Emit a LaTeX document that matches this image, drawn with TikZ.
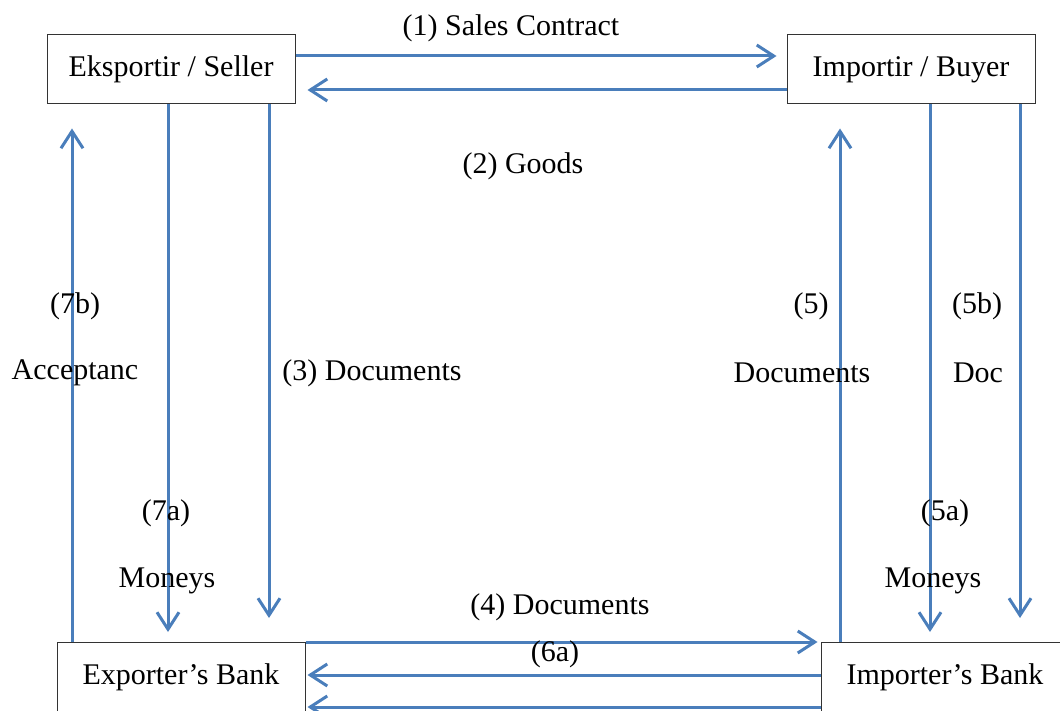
\documentclass[tikz,border=0pt]{standalone}
\usepackage{fontspec}
\setmainfont{Liberation Serif}
\usetikzlibrary{arrows.meta,calc}
\definecolor{flowblue}{RGB}{74,126,187}

\begin{document}
\begin{tikzpicture}[x=1pt, y=-1pt,
		party/.style={draw=black!80, line width=1pt, minimum width=248pt, minimum height=69pt, inner sep=0pt, font=\fontsize{30}{36}\selectfont},
		flow/.style={draw=flowblue, line width=3pt, -{Straight Barb[length=17pt,width=22pt]}},
		lbl/.style={font=\fontsize{30}{36}\selectfont, inner sep=0pt}]
		\clip (0,0) rectangle (1060,711);
		
		\node[party] (seller) at (171,69.5) {Eksportir / Seller};
		\node[party] (buyer) at (911,69.5) {Importir / Buyer};
		\node[party] (exbank) at (181,677) {Exporter's Bank};
		\node[party] (imbank) at (945,677) {Importer's Bank};
		
		% top
		\draw[flow, shorten >=10pt] ([yshift=13.5pt]seller.east) -- ([yshift=13.5pt]seller.east -| buyer.west);
		\draw[flow, shorten >=12pt] ([yshift=-20.5pt]buyer.west) -- ([yshift=-20.5pt]buyer.west -| seller.east);
		
		% left side
		\draw[flow, shorten >=10pt] ([xshift=-3pt]seller.south) -- ([xshift=-3pt]seller.south |- exbank.north);
		\draw[flow, shorten >=24pt] ([xshift=98pt]seller.south) -- ([xshift=98pt]seller.south |- exbank.north);
		\draw[flow, shorten >=24pt] ([xshift=-109pt]exbank.north) -- ([xshift=-109pt]exbank.north |- seller.south);
		
		% right side
		\draw[flow, shorten >=24pt] ([xshift=-105pt]imbank.north) -- ([xshift=-105pt]imbank.north |- buyer.south);
		\draw[flow, shorten >=10pt] ([xshift=19pt]buyer.south) -- ([xshift=19pt]buyer.south |- imbank.north);
		\draw[flow, shorten >=24pt] ([xshift=109pt]buyer.south) -- ([xshift=109pt]buyer.south |- imbank.north);
		
		% bottom
		\draw[flow, shorten >=3pt] (exbank.north east) -- (imbank.north west);
		\draw[flow, shorten >=2pt] ([yshift=2pt]imbank.west) -- ([yshift=2pt]imbank.west -| exbank.east);
		\draw[flow, shorten >=2pt] ([yshift=-30pt]imbank.west) -- ([yshift=-30pt]imbank.west -| exbank.east);
		
		\node[lbl] (l1) at (511,28) {(1) Sales Contract};
		\node[lbl] (l2) at (523,166) {(2) Goods};
		\node[lbl] (l7b) at (75,306) {(7b)};
		\node[lbl] (lacc) at (75,373) {Acceptanc};
		\node[lbl] (l3) at (372,373) {(3) Documents};
		\node[lbl] (l5) at (811,306) {(5)};
		\node[lbl] (ldoc) at (802,373) {Documents};
		\node[lbl] (l5b) at (977,306) {(5b)};
		\node[lbl] (ldoc2) at (978,373) {Doc};
		\node[lbl] (l7a) at (166,513) {(7a)};
		\node[lbl] (lmon) at (167,581) {Moneys};
		\node[lbl] (l5a) at (945,513) {(5a)};
		\node[lbl] (lmon2) at (933,581) {Moneys};
		\node[lbl] (l4) at (560,607) {(4) Documents};
		\node[lbl] (l6a) at (555,654) {(6a)};
\end{tikzpicture}
\end{document}
